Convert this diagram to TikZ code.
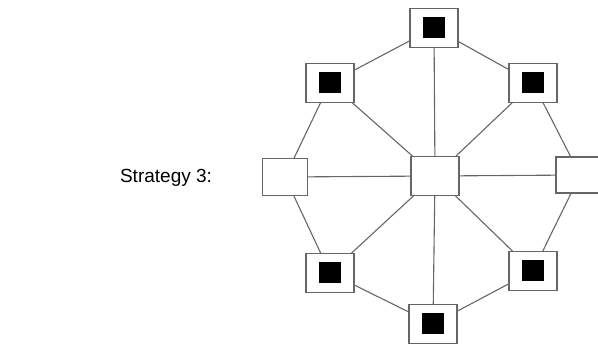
\documentclass[tikz,border=0pt]{standalone}
\usepackage{fontspec}
\setmainfont{Liberation Sans}
\begin{document}
\begin{tikzpicture}[x=1pt,y=-1pt,
  box/.style={draw=black!60, line width=1.5pt, fill=white, minimum width=48pt, minimum height=39pt, inner sep=0pt, outer sep=0pt},
  host/.style={box, path picture={\fill[black] ([shift={(-11pt,-10.5pt)}]path picture bounding box.center) rectangle ++(22pt,21pt);}},
  link/.style={draw=black!60, line width=1.1pt}]
\useasboundingbox (0,0) rectangle (598,347);
\node[font=\fontsize{19}{23}\selectfont, anchor=center] (lbl) at (166,178) {Strategy 3:};
\node[host] (t) at (434,28) {};
\node[host] (ul) at (330,83) {};
\node[host] (ur) at (533,83) {};
\node[box, minimum width=45pt, minimum height=37pt] (l) at (285,177) {};
\node[box] (c) at (435,176) {};
\node[box, minimum width=48pt, minimum height=36pt] (r) at (580,175) {};
\node[host] (ll) at (330,273) {};
\node[host] (lr) at (533,271) {};
\node[host] (b) at (433,324) {};
\draw[link] (t) -- (ul);
\draw[link] (ul) -- (l);
\draw[link] (l) -- (ll);
\draw[link] (ll) -- (b);
\draw[link] (b) -- (lr);
\draw[link] (lr) -- (r);
\draw[link] (r) -- (ur);
\draw[link] (ur) -- (t);
\foreach \n in {t,ul,ur,l,r,ll,lr,b} \draw[link] (c) -- (\n);
\end{tikzpicture}
\end{document}
